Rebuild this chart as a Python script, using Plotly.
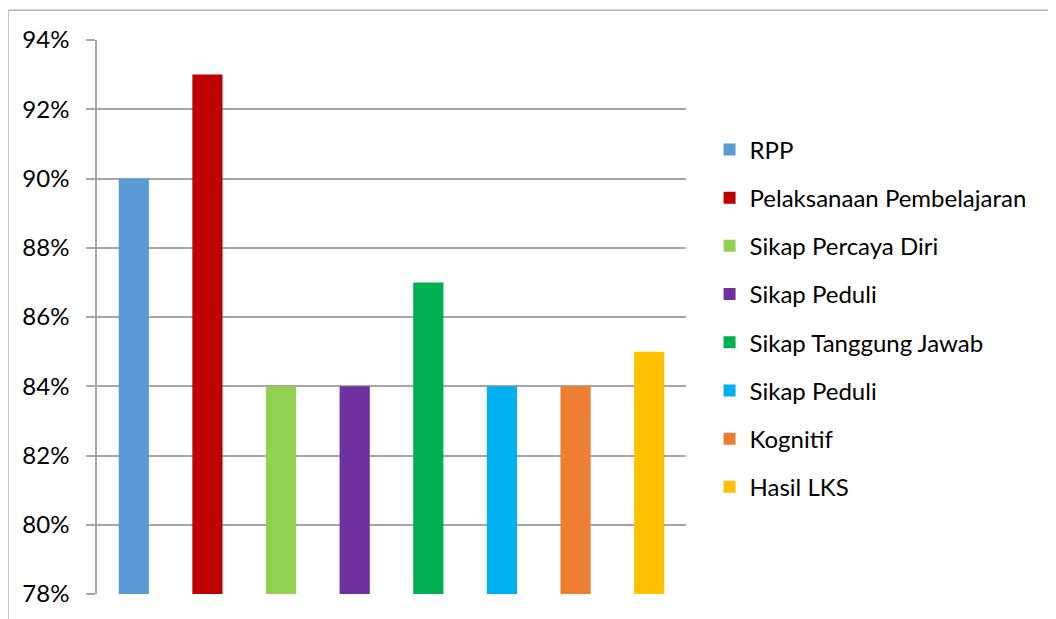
import plotly.graph_objects as go

# Data
categories = [
    "RPP",
    "Pelaksanaan Pembelajaran",
    "Sikap Percaya Diri",
    "Sikap Peduli",
    "Sikap Tanggung Jawab",
    "Sikap Peduli",
    "Kognitif",
    "Hasil LKS",
]
values = [0.90, 0.93, 0.84, 0.84, 0.87, 0.84, 0.84, 0.85]
colors = ["#5B9BD5", "#C00000", "#92D050", "#7030A0",
          "#00B050", "#00B0F0", "#ED7D31", "#FFC000"]
y_ticks = [0.78, 0.80, 0.82, 0.84, 0.86, 0.88, 0.90, 0.92, 0.94]
y_min, y_max = 0.78, 0.94

FONT = "Lato, 'Open Sans', sans-serif"
GRID = "#a6a6a6"

# page body adds an 8px margin, so the figure is sized to fit inside it
W, H = 1048, 611
L, T, R, B = 89, 32, 370, 21
PW, PH = W - L - R, H - T - B

fig = go.Figure()

# One trace per bar so every bar gets its own legend entry
for i, (name, val, col) in enumerate(zip(categories, values, colors)):
    fig.add_trace(go.Bar(
        x=[i],
        y=[val - y_min],
        base=y_min,
        name=name,
        marker=dict(color=col, line=dict(width=0)),
        width=0.41,
        legendgroup=f"g{i}",
    ))

fig.update_layout(
    width=W,
    height=H,
    margin=dict(l=L, r=R, t=T, b=B),
    paper_bgcolor="white",
    plot_bgcolor="white",
    barmode="overlay",
    font=dict(family=FONT, size=24, color="#000000"),
    showlegend=True,
    legend=dict(
        x=1.04,
        y=1 - 88 / PH,
        xanchor="left",
        yanchor="top",
        font=dict(family=FONT, size=24, color="#000000"),
        tracegroupgap=14,
        itemwidth=30,
        bgcolor="rgba(0,0,0,0)",
    ),
    xaxis=dict(
        range=[-0.5, 7.5],
        showticklabels=False,
        showgrid=False,
        zeroline=False,
        ticks="",
        showline=False,
    ),
    yaxis=dict(
        range=[y_min, y_max],
        tickvals=y_ticks,
        tickformat=".0%",
        showgrid=True,
        gridcolor=GRID,
        gridwidth=1.5,
        zeroline=False,
        showline=True,
        linecolor=GRID,
        linewidth=1.5,
        ticks="outside",
        ticklen=9,
        tickcolor=GRID,
        tickwidth=1.5,
        ticklabelstandoff=12,
        tickfont=dict(family=FONT, size=24, color="#000000"),
    ),
    shapes=[
        # outer chart border
        dict(type="rect", xref="paper", yref="paper",
             x0=-L / PW, x1=(W + 10 - L) / PW,
             y0=-(B + 10) / PH, y1=(PH + T - 2) / PH,
             line=dict(color="#b3b3b3", width=1.5), layer="below"),
    ],
)

fig.write_html("out.html")
